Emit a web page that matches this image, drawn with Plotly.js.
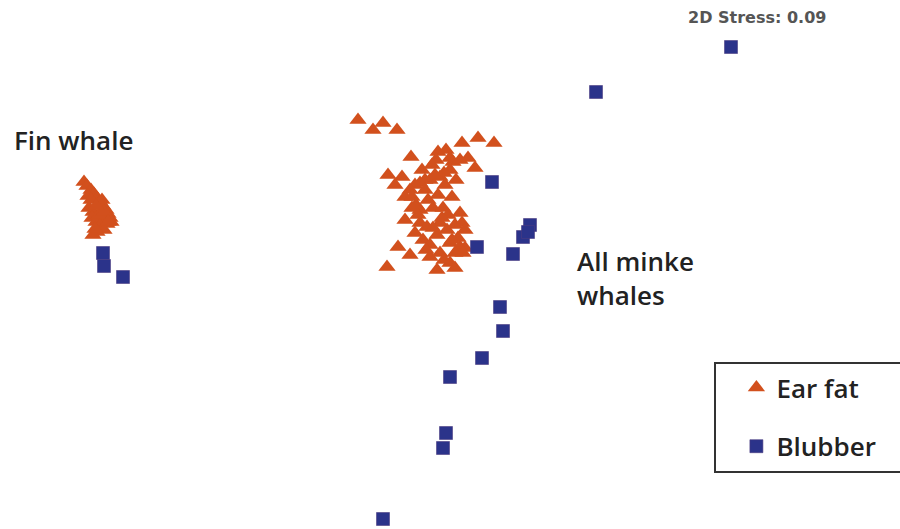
<!DOCTYPE html>
<html>
<head>
<meta charset="utf-8">
<script src="https://cdn.plot.ly/plotly-3.0.1.min.js"></script>
<style>html,body{margin:0;padding:0;background:#fff;}#chart{width:900px;height:529px;}</style>
</head>
<body>
<div id="chart"></div>
<script>
// MDS ordination coordinates (arbitrary units)
const earFatX = [84,87,91,94,97,100,103,106,108,110,111,107,103,98,93,89,92,96,100,104,97,93,95,99,104,108,102,88,91,96,
  358,373,383,397,462,478,494,411,438,446,450,388,402,395,475,468,
  420,430,440,453,460,450,444,435,425,415,410,405,412,452,420,433,443,460,
  405,420,427,440,455,462,415,423,437,450,460,465,
  398,410,430,440,455,463,387,437,455,450,
  425,432,445,418,447,438,430,458,428,448,412,465,
  422,436,456,442,426,416,452,444,433];
const earFatY = [182,186,190,194,198,202,206,210,214,218,222,224,220,216,212,208,218,222,226,230,232,235,229,215,212,222,200,196,200,206,
  120,130,123,130,143,138,143,157,152,150,158,175,177,185,168,158,
  183,180,177,162,160,170,173,175,180,185,190,197,197,197,210,208,208,213,
  220,223,227,223,225,223,233,240,235,243,247,248,
  247,255,257,253,253,253,267,270,268,263,
  190,165,185,215,230,195,245,238,200,215,208,230,
  170,160,180,218,250,205,240,260,228];
const blubberX = [103,104,123, 492,530,523,528,477,513, 500,503,482,450,446,443,383, 596,731];
const blubberY = [253,266,277, 182,225,237,232,247,254, 307,331,358,377,433,448,519, 92,47];

const traces = [
  {name:'Ear fat', x: earFatX, y: earFatY, type:'scatter', mode:'markers', legendgroup:'a',
   marker:{symbol:'triangle-up', size:15, color:'#d2501d', line:{width:0}}},
  {name:'Blubber', x: blubberX, y: blubberY, type:'scatter', mode:'markers', legendgroup:'b',
   marker:{symbol:'square', size:13, color:'#2b338a', line:{width:0.6, color:'#4a3a80'}}}
];

const txtFont = {family:'"Open Sans", sans-serif', size:26, color:'#222', weight:600};

const layout = {
  width:900, height:529,
  margin:{l:0,r:0,t:0,b:0},
  paper_bgcolor:'#fff', plot_bgcolor:'#fff',
  xaxis:{range:[0,900], visible:false, fixedrange:true},
  yaxis:{range:[529,0], visible:false, fixedrange:true},
  showlegend:true,
  legend:{x:0.796, y:1-364/529, xanchor:'left', yanchor:'top',
    borderwidth:0, bgcolor:'rgba(0,0,0,0)',
    font:{family:'"Open Sans", sans-serif', size:26, color:'#222', weight:600},
    tracegroupgap:22, itemsizing:'trace', indentation:20},
  shapes:[
    {type:'rect', xref:'x', yref:'y', x0:715, x1:906, y0:363, y1:472, line:{color:'#333', width:2}, fillcolor:'rgba(0,0,0,0)', layer:'below'}
  ],
  annotations:[
    {x:12, y:140, xref:'x', yref:'y', text:'Fin whale', showarrow:false, xanchor:'left', yanchor:'middle', font:txtFont},
    {x:575, y:278, xref:'x', yref:'y', text:'All minke<br>whales', showarrow:false, xanchor:'left', yanchor:'middle', align:'left', font:txtFont},
    {x:686, y:17, xref:'x', yref:'y', text:'2D Stress: 0.09', showarrow:false, xanchor:'left', yanchor:'middle',
     font:{family:'"DejaVu Sans", Arial, sans-serif', size:16, color:'#555', weight:'bold'}}
  ]
};
Plotly.newPlot('chart', traces, layout, {displayModeBar:false, staticPlot:true});
</script>
</body>
</html>
